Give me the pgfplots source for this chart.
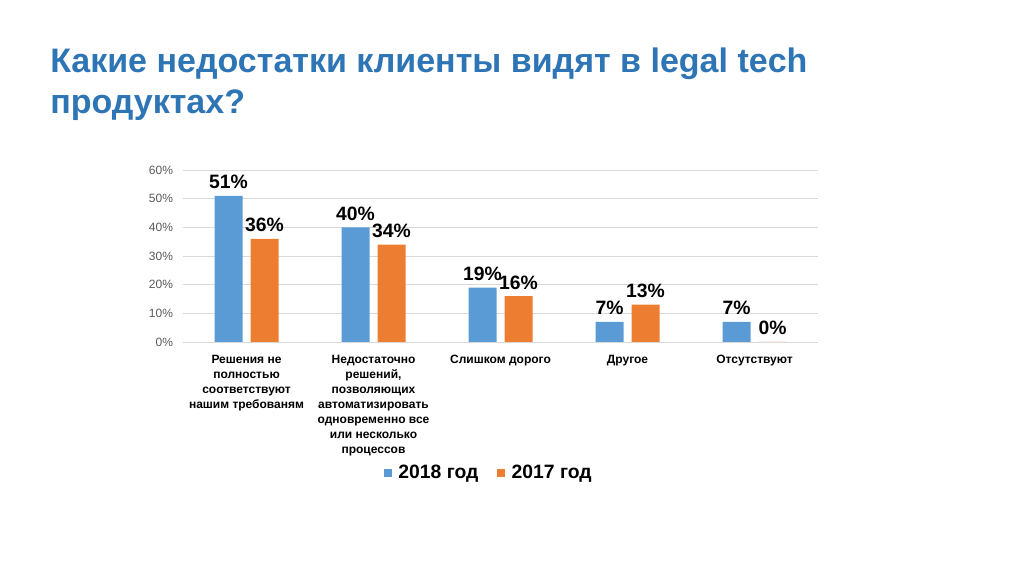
\documentclass[border=0pt]{standalone}
\usepackage{fontspec}
\setmainfont{Liberation Sans}
\usepackage{pgfplots}
\pgfplotsset{compat=1.18}
\definecolor{barblue}{RGB}{91,155,213}
\definecolor{barorange}{RGB}{237,125,49}
\definecolor{titleblue}{RGB}{46,117,182}
\definecolor{gridgray}{RGB}{217,217,217}
\definecolor{tickgray}{RGB}{89,89,89}
\begin{document}
\begin{tikzpicture}
\useasboundingbox (0,0) rectangle (768pt,430.5pt);
\node[anchor=base west, inner sep=0pt, text=titleblue, font=\bfseries\fontsize{25.5}{30}\selectfont] at (37.5pt,376pt) {Какие недостатки клиенты видят в legal tech};
\node[anchor=base west, inner sep=0pt, text=titleblue, font=\bfseries\fontsize{25.5}{30}\selectfont] at (37.5pt,345.5pt) {продуктах?};
\begin{axis}[
  at={(137.25pt,174pt)}, anchor=south west,
  scale only axis, width=476.25pt, height=129pt,
  xmin=-0.5, xmax=4.5, ymin=0, ymax=60,
  ybar=6pt, bar width=21pt,
  xtick={0,1,2,3,4},
  xticklabels={{Решения не\\полностью\\соответствуют\\нашим требованям},
               {Недостаточно\\решений,\\позволяющих\\автоматизировать\\одновременно все\\или несколько\\процессов},
               {Слишком дорого},{Другое},{Отсутствуют}},
  ytick={0,10,20,30,40,50,60},
  yticklabel={\pgfmathprintnumber{\tick}\%},
  /pgf/number format/assume math mode=true,
  ymajorgrids, grid style={gridgray, line width=0.6pt},
  axis line style={draw=none},
  tick style={draw=none},
  xticklabel style={font=\bfseries\fontsize{9}{11.25}\selectfont, align=center, anchor=north, yshift=-2pt},
  yticklabel style={text=tickgray, font=\fontsize{9}{10}\selectfont, xshift=-4pt},
  nodes near coords={\pgfmathprintnumber{\pgfplotspointmeta}\%},
  nodes near coords style={font=\bfseries\fontsize{14.5}{16}\selectfont, text=black, inner sep=2pt, yshift=3pt},
  legend style={at={(0.482,-0.762)}, anchor=center, draw=none, legend columns=2,
    font=\bfseries\fontsize{14.5}{16}\selectfont,
    /tikz/every odd column/.append style={column sep=3pt},
    /tikz/every even column/.append style={column sep=12pt}},
  legend image code/.code={\fill[#1] (0pt,-3pt) rectangle (6pt,3pt);},
]
\addplot[fill=barblue, draw=none] coordinates {(0,51) (1,40) (2,19) (3,7) (4,7)};
\addplot[fill=barorange, draw=none] coordinates {(0,36) (1,34) (2,16) (3,13) (4,0)};
\legend{2018 год, 2017 год}
\end{axis}
\end{tikzpicture}
\end{document}
